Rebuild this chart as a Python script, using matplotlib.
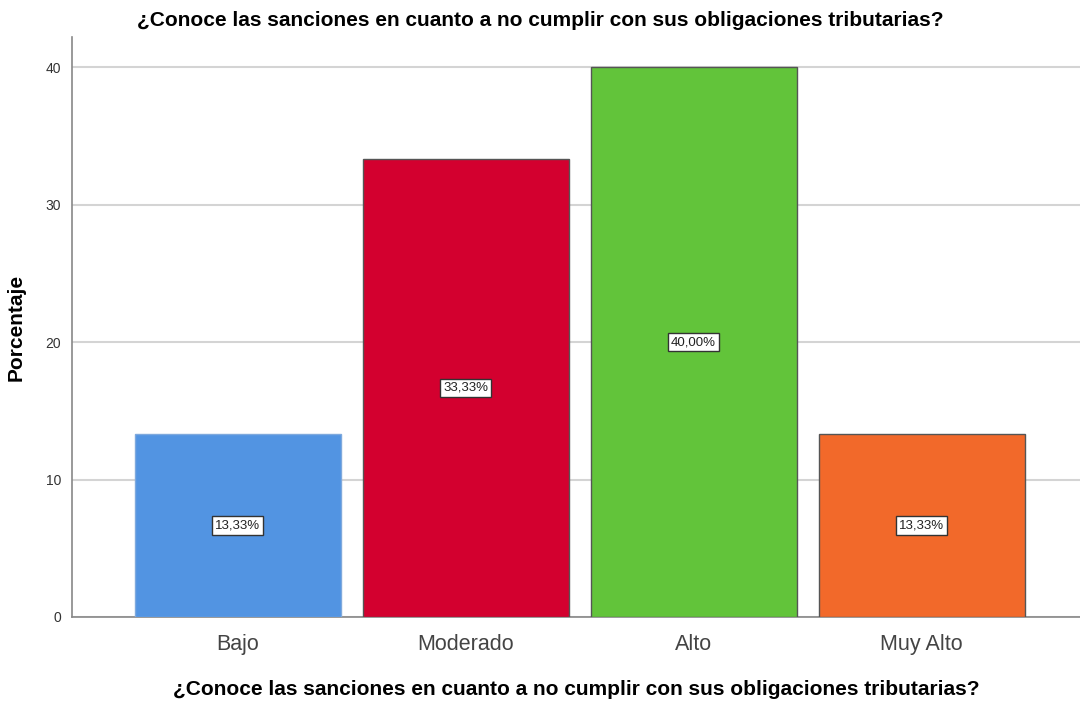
import matplotlib.pyplot as plt

categories = ["Bajo", "Moderado", "Alto", "Muy Alto"]
percentages = [13.33, 33.33, 40.00, 13.33]
bar_colors = ["#5294E2", "#D3002F", "#62C43A", "#F2692A"]
edge_colors = ["#7FA9DD", "#555555", "#555555", "#555555"]
yticks = [0, 10, 20, 30, 40]
question = "¿Conoce las sanciones en cuanto a no cumplir con sus obligaciones tributarias?"

plt.rcParams["font.family"] = ["Liberation Sans", "DejaVu Sans"]


def main() -> None:
    fig = plt.figure(figsize=(10.8, 7.02), dpi=100)
    ax = fig.add_axes([72 / 1080, 1 - 617 / 702, 1 - 72 / 1080, (617 - 37) / 702])

    x = list(range(len(categories)))
    ax.bar(x, percentages, width=0.9035, color=bar_colors,
           edgecolor=edge_colors, linewidth=1.0, zorder=3)

    for xi, val in zip(x, percentages):
        ax.text(xi, val / 2, f"{val:.2f}%".replace(".", ","),
                ha="center", va="center", fontsize=9.5, color="#222222", zorder=4,
                bbox=dict(boxstyle="square,pad=0.25", facecolor="white",
                          edgecolor="#333333", linewidth=1.0))

    ax.set_xlim(-0.726, 3.695)
    ax.set_ylim(0, 42.2)
    ax.set_yticks(yticks)
    ax.set_xticks(x)
    ax.set_xticklabels(categories, fontsize=15.5, color="#444444")
    ax.tick_params(axis="y", labelsize=10, colors="#333333", length=0, pad=8)
    ax.tick_params(axis="x", length=0, pad=12)

    ax.yaxis.grid(True, color="#d4d4d4", linewidth=1.5, zorder=0)
    ax.set_axisbelow(True)
    for side in ["top", "right"]:
        ax.spines[side].set_visible(False)
    for side in ["left", "bottom"]:
        ax.spines[side].set_color("#888888")
        ax.spines[side].set_linewidth(1.2)

    ax.set_ylabel("Porcentaje", fontsize=15, fontweight="bold", labelpad=14)
    ax.set_xlabel(question, fontsize=15, fontweight="bold", labelpad=18)
    fig.text(0.5, 1 - 20 / 702, question, ha="center", va="center",
             fontsize=15, fontweight="bold")

    fig.savefig("out.png", dpi=100)
    plt.close(fig)


if __name__ == "__main__":
    main()
